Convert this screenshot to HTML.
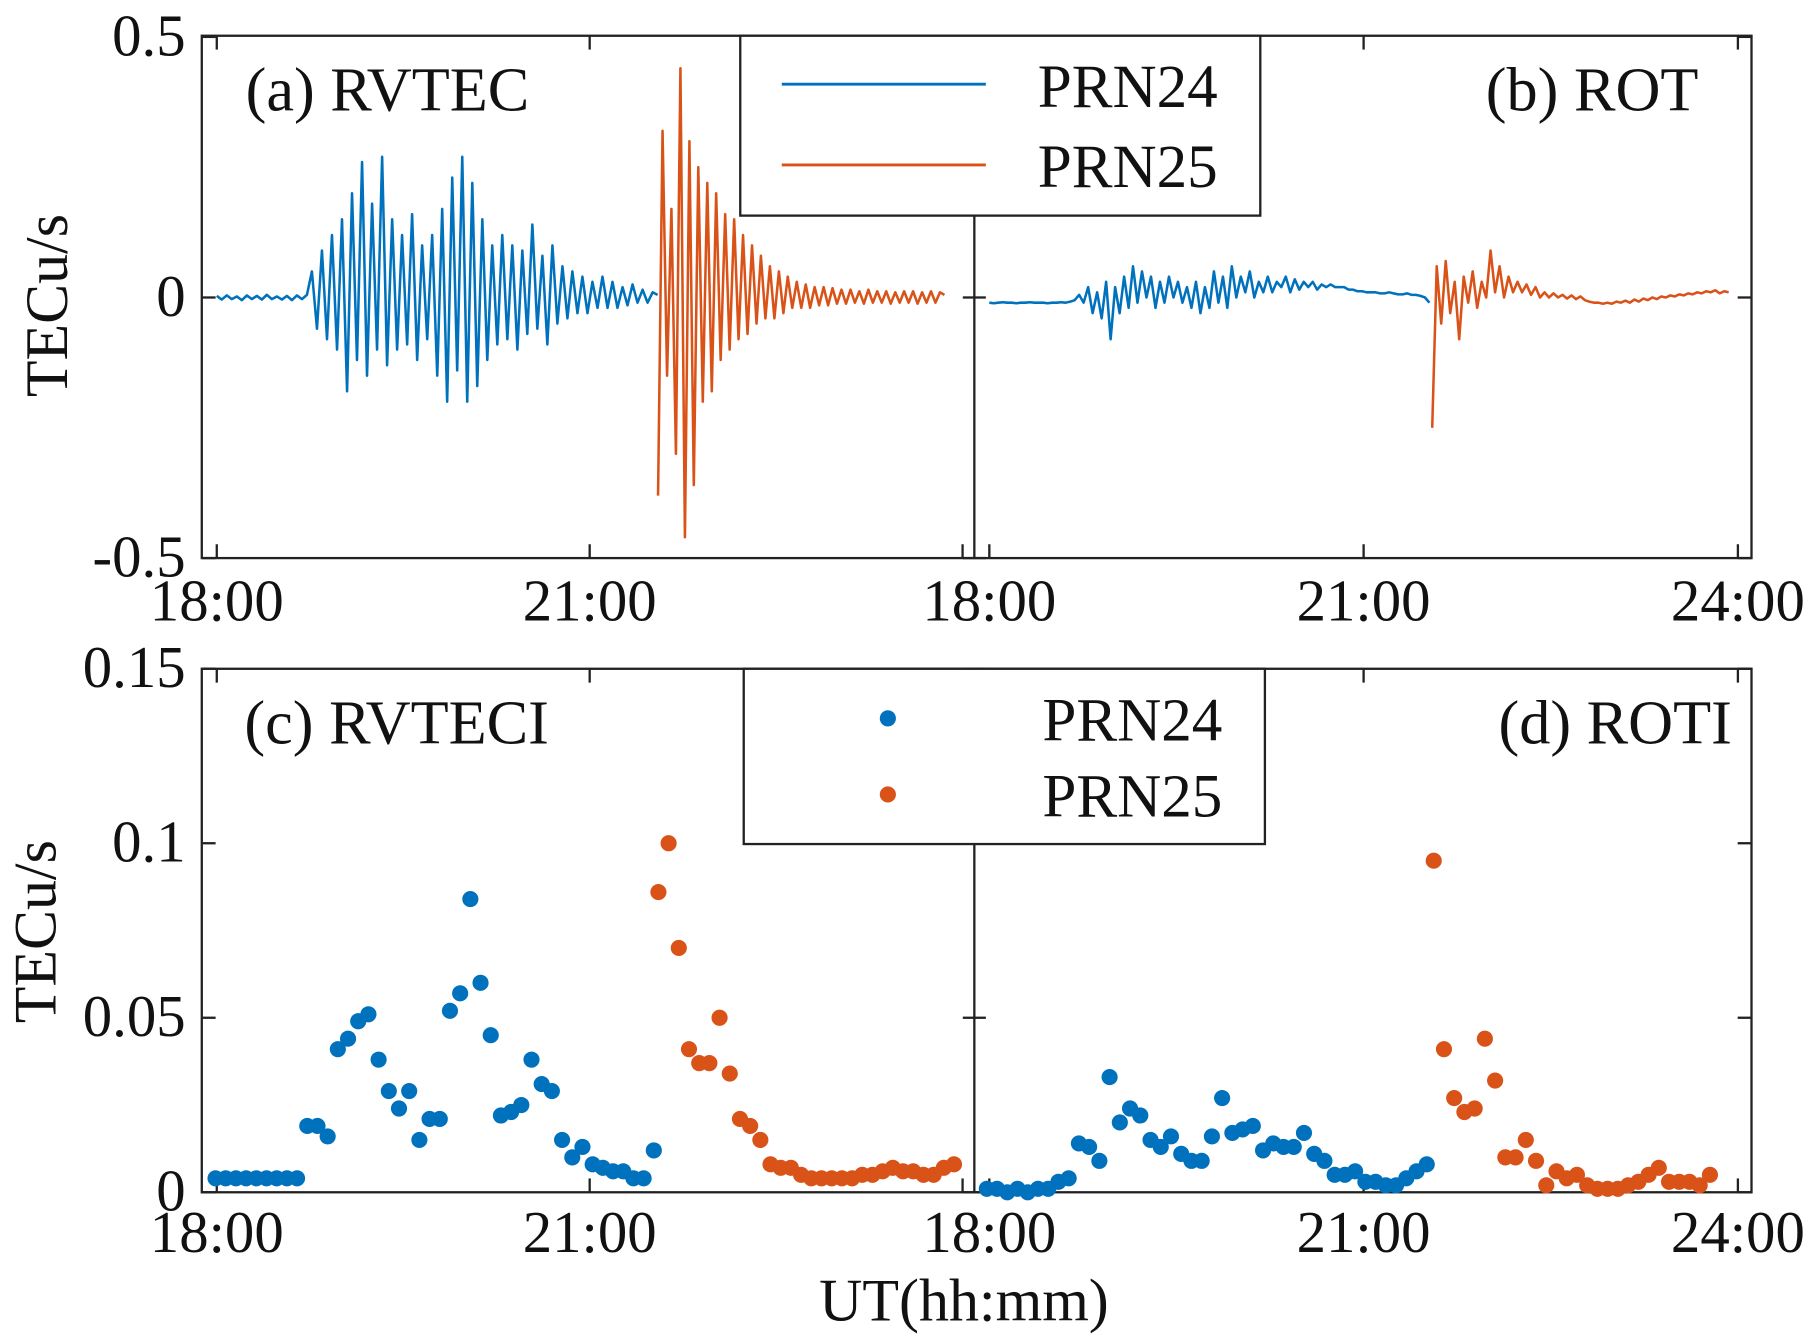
<!DOCTYPE html>
<html><head><meta charset="utf-8"><style>
html,body{margin:0;padding:0;background:#fff;}
svg{display:block;}
text{font-family:"Liberation Serif",serif;fill:#111;}
</style></head><body>
<svg id="fig" width="1808" height="1339" viewBox="0 0 1568 1161.25" preserveAspectRatio="none" xmlns="http://www.w3.org/2000/svg"></svg>
<script>
// ---------- data ----------
const rvtec24Start = 0, rvtecStep = 0.0403;
const rvtec24 = [0.003,-0.004,0.004,-0.003,0.002,-0.005,0.004,-0.003,0.003,-0.004,0.005,-0.003,0.002,-0.004,0.003,-0.005,0.004,-0.003,0.005,
0.05,-0.06,0.09,-0.08,0.12,-0.1,0.15,
-0.18,0.2,-0.12,0.26,-0.15,0.18,-0.1,0.27,-0.13,0.15,
-0.1,0.12,-0.09,0.16,-0.12,0.1,-0.08,0.12,-0.15,0.17,
-0.2,0.23,-0.14,0.27,-0.2,0.22,-0.17,0.15,-0.12,0.1,
-0.09,0.12,-0.08,0.1,-0.1,0.09,-0.07,0.14,-0.06,0.08,
-0.09,0.1,-0.05,0.06,-0.04,0.05,-0.03,0.04,-0.03,0.03,
-0.02,0.04,-0.02,0.03,-0.02,0.02,-0.015,0.025,-0.01,0.015,-0.01,0.01,0.005];
const rvtec25Start = 3.55, rvtec25Step = 0.036;
const rvtec25 = [-0.38,0.32,-0.15,0.17,-0.3,0.44,-0.46,0.3,-0.36,0.25,-0.2,0.22,-0.18,0.2,-0.12,0.16,-0.1,0.15,-0.08,0.12,-0.07,0.1,-0.05,0.08,-0.04,0.06,-0.04,0.05,-0.03,0.04,
-0.02,0.03,-0.02,0.025,-0.02,0.02,-0.015,0.02,-0.015,0.018,-0.012,0.015,-0.012,0.015,-0.01,0.012,-0.012,0.015,-0.01,0.012,-0.01,0.012,-0.012,0.01,-0.01,0.012,-0.01,0.012,-0.012,0.01,-0.01,0.012,-0.01,0.01,0.005];
const rot24Start = 0, rotStep = 0.036;
const rot24 = [-0.01,-0.011,-0.01,-0.009,-0.01,-0.01,-0.011,-0.01,-0.01,-0.009,-0.01,-0.01,-0.01,-0.011,-0.01,-0.01,-0.009,-0.01,-0.008,-0.005,
0.005,-0.01,0.02,-0.03,0.01,-0.04,0.03,-0.08,0.02,-0.03,0.04,-0.02,0.06,-0.01,0.05,0.0,0.04,-0.02,0.03,
-0.01,0.04,0.0,0.03,-0.01,0.02,-0.02,0.03,-0.03,0.02,-0.02,0.05,-0.01,0.04,-0.02,0.06,0.0,0.04,0.01,0.05,0.0,
0.03,0.01,0.04,0.01,0.03,0.02,0.04,0.01,0.035,0.015,0.03,0.02,0.03,0.015,0.025,0.02,0.025,0.02,0.02,0.02,
0.015,0.015,0.012,0.012,0.01,0.01,0.01,0.008,0.008,0.01,0.008,0.006,0.006,0.008,0.005,0.005,0.003,0.0,-0.01];
const rot25Start = 3.55;
const rot25 = [-0.25,0.06,-0.05,0.07,-0.03,0.03,-0.08,0.04,-0.01,0.05,-0.02,0.03,0.0,0.09,0.01,0.06,0.0,0.04,0.01,0.03,
0.01,0.025,0.005,0.02,0.0,0.01,0.0,0.008,0.0,0.005,-0.002,0.004,-0.003,0.002,-0.005,-0.008,-0.01,-0.01,-0.012,-0.01,
-0.012,-0.008,-0.01,-0.006,-0.01,-0.004,-0.008,-0.002,-0.005,0.0,-0.003,0.002,0.0,0.004,0.002,0.006,0.004,0.008,0.006,0.01,0.008,0.012,0.01,0.014,0.008,0.012,0.01];
const idxStep = 0.082;
const rvteci24Start = -0.01;
const rvteci24 = [0.004,0.004,0.004,0.004,0.004,0.004,0.004,0.004,0.004,0.019,0.019,0.016,0.041,0.044,0.049,0.051,0.038,0.029,0.024,0.029,0.015,0.021,0.021,0.052,0.057,0.084,0.06,0.045,0.022,0.023,0.025,0.038,0.031,0.029,0.015,0.01,0.013,0.008,0.007,0.006,0.006,0.004,0.004,0.012];
const rvteci25Start = 3.553;
const rvteci25 = [0.086,0.1,0.07,0.041,0.037,0.037,0.05,0.034,0.021,0.019,0.015,0.008,0.007,0.007,0.005,0.004,0.004,0.004,0.004,0.004,0.005,0.005,0.006,0.007,0.006,0.006,0.005,0.005,0.007,0.008];
const roti24Start = -0.02;
const roti24 = [0.001,0.001,0.0,0.001,0.0,0.001,0.001,0.003,0.004,0.014,0.013,0.009,0.033,0.02,0.024,0.022,0.015,0.013,0.016,0.011,0.009,0.009,0.016,0.027,0.017,0.018,0.019,0.012,0.014,0.013,0.013,0.017,0.011,0.009,0.005,0.005,0.006,0.003,0.003,0.002,0.002,0.004,0.006,0.008];
const roti25Start = 3.562;
const roti25 = [0.095,0.041,0.027,0.023,0.024,0.044,0.032,0.01,0.01,0.015,0.009,0.002,0.006,0.004,0.005,0.002,0.001,0.001,0.001,0.002,0.003,0.005,0.007,0.003,0.003,0.003,0.002,0.005];
const xTickLabelsLeft = ["18:00","21:00",""];
const xTickLabelsRight = ["18:00","21:00","24:00"];
const xTickHours = [0,3,6];
const topYTicks = [-0.5,0,0.5];
const topYLabels = ["-0.5","0","0.5"];
const botYTicks = [0,0.05,0.1,0.15];
const botYLabels = ["0","0.05","0.1","0.15"];

// ---------- drawing ----------
const NS="http://www.w3.org/2000/svg";
const svg=document.getElementById('fig');
const BLUE="#0072BD", ORANGE="#D95319";
function mk(tag,attrs,parent){const e=document.createElementNS(NS,tag);for(const k in attrs)e.setAttribute(k,attrs[k]);(parent||svg).appendChild(e);return e;}
const L=175,R=1519,MID=845;
const xL=t=>188+t*107.8, xR=t=>858+t*108.2;
const yTop=v=>258-v*452, yBot=v=>1034-v*3027;
const TF=51;

function axesBox(top,bottom,name){
  const g=mk('g',{});
  
  
  mk('rect',{x:L,y:top,width:R-L,height:bottom-top,fill:'none',stroke:'#222','stroke-width':2},g);
  mk('line',{x1:MID,y1:top,x2:MID,y2:bottom,stroke:'#222','stroke-width':2},g);
  xTickHours.forEach(h=>{[xL(h),xR(h)].forEach(x=>{
    mk('line',{x1:x,y1:bottom,x2:x,y2:bottom-12,stroke:'#222','stroke-width':2},g);
    mk('line',{x1:x,y1:top,x2:x,y2:top+12,stroke:'#222','stroke-width':2},g);});});
  return g;
}
function yTicks(g,ticks,labels,yf){
  ticks.forEach((v,i)=>{const y=yf(v);
    [[L,12],[MID,-10],[MID,10],[R,-12]].forEach(([x,d])=>mk('line',{x1:x,y1:y,x2:x+d,y2:y,stroke:'#222','stroke-width':2},g));
    const t=mk('text',{x:161,y:y+16,'text-anchor':'end','font-size':TF},g);t.textContent=labels[i];
    
    
  });
}
function xLabels(g,baseline){
  xTickHours.forEach((h,i)=>{
    if(xTickLabelsLeft[i]){
    const a=mk('text',{x:xL(h),y:baseline,'text-anchor':'middle','font-size':TF},g);a.textContent=xTickLabelsLeft[i];
    
    
    }
    const b=mk('text',{x:xR(h),y:baseline,'text-anchor':'middle','font-size':TF},g);b.textContent=xTickLabelsRight[i];
    
    
  });
}
function line(vals,start,step,xf,yf,color,name){
  const pts=vals.map((v,i)=>xf(start+i*step).toFixed(1)+','+yf(v).toFixed(1)).join(' ');
  const p=mk('polyline',{points:pts,fill:'none',stroke:color,'stroke-width':2.2,'stroke-linejoin':'round'});
  
  
}
function dots(vals,start,step,xf,yf,color,name){
  const g=mk('g',{});
  
  
  vals.forEach((v,i)=>mk('circle',{cx:xf(start+i*step),cy:yf(v),r:7,fill:color},g));
}
function txt(s,x,y,size,anchor,name,extra){
  const t=mk('text',Object.assign({x:x,y:y,'font-size':size,'text-anchor':anchor||'start'},extra||{}));t.textContent=s;
  
  
  return t;
}

// top panels
const gt=axesBox(31,484,'top-axes');
yTicks(gt,topYTicks,topYLabels,yTop);
xLabels(gt,538);
line(rvtec24,rvtec24Start,rvtecStep,xL,yTop,BLUE,'rvtec-prn24-line');
line(rvtec25,rvtec25Start,rvtec25Step,xL,yTop,ORANGE,'rvtec-prn25-line');
line(rot24,rot24Start,rotStep,xR,yTop,BLUE,'rot-prn24-line');
line(rot25,rot25Start,rotStep,xR,yTop,ORANGE,'rot-prn25-line');
txt('(a) RVTEC',213,96,54,'start','panel-a-title');
txt('(b) ROT',1473,96,54,'end','panel-b-title');
txt('TECu/s',58,265,52,'middle','top-y-axis-title',{transform:'rotate(-90 58 265)'});
// top legend
const lg1=mk('g',{});


mk('rect',{x:642,y:31,width:451,height:156,fill:'#fff',stroke:'#222','stroke-width':2},lg1);
mk('line',{x1:678,y1:73,x2:855,y2:73,stroke:BLUE,'stroke-width':2.5},lg1);
mk('line',{x1:678,y1:143,x2:855,y2:143,stroke:ORANGE,'stroke-width':2.5},lg1);
txt('PRN24',900,93,53,'start','legend-entry-prn24');
txt('PRN25',900,162,53,'start','legend-entry-prn25');

// bottom panels
const gb=axesBox(580,1034,'bottom-axes');
yTicks(gb,botYTicks,botYLabels,yBot);
xLabels(gb,1086);
dots(rvteci24,rvteci24Start,idxStep,xL,yBot,BLUE,'rvteci-prn24-points');
dots(rvteci25,rvteci25Start,idxStep,xL,yBot,ORANGE,'rvteci-prn25-points');
dots(roti24,roti24Start,idxStep,xR,yBot,BLUE,'roti-prn24-points');
dots(roti25,roti25Start,idxStep,xR,yBot,ORANGE,'roti-prn25-points');
txt('(c) RVTECI',212,645,54,'start','panel-c-title');
txt('(d) ROTI',1502,645,54,'end','panel-d-title');
txt('TECu/s',48,808,52,'middle','bottom-y-axis-title',{transform:'rotate(-90 48 808)'});
txt('UT(hh:mm)',836,1145,52,'middle','x-axis-title');
const lg2=mk('g',{});


mk('rect',{x:645,y:580,width:452,height:152,fill:'#fff',stroke:'#222','stroke-width':2},lg2);
mk('circle',{cx:770,cy:623,r:7,fill:BLUE},lg2);
mk('circle',{cx:770,cy:689,r:7,fill:ORANGE},lg2);
txt('PRN24',904,642,53,'start','legend-entry-prn24-dots');
txt('PRN25',904,708,53,'start','legend-entry-prn25-dots');
</script>
</body></html>
